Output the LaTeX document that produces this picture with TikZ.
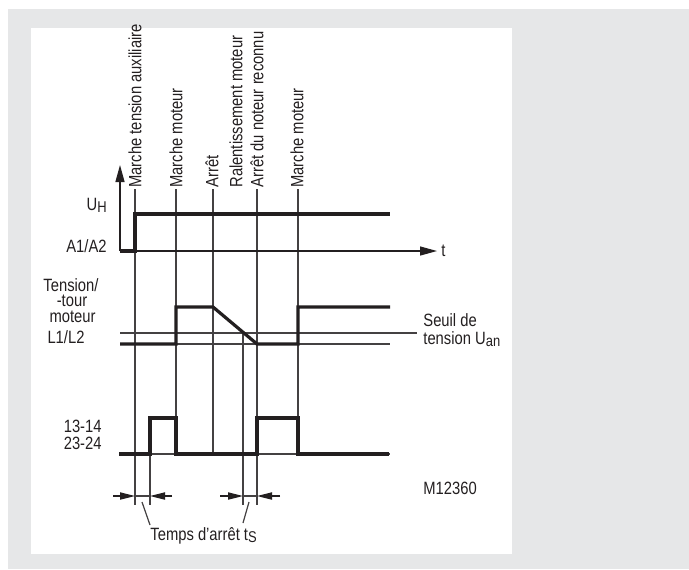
\documentclass[tikz,border=0pt]{standalone}
\usepackage{fontspec}
\setmainfont{Liberation Sans}[FakeStretch=0.83]
\usetikzlibrary{arrows.meta}

\definecolor{panelgray}{HTML}{E6E7E8}
\definecolor{ink}{HTML}{231F20}

\newcommand{\lowsub}[1]{\raisebox{-1.2pt}{\fontsize{7.8}{9}\selectfont #1}}

\begin{document}
\begin{tikzpicture}[
        x=0.5pt, y=-0.5pt,
        font=\fontsize{8.9}{10}\selectfont,
        txt/.style={inner sep=0pt, text=ink},
        vlbl/.style={inner sep=0pt, text=ink, rotate=90, anchor=west},
        thinline/.style={line width=0.6pt, ink!85},
        signal/.style={line width=1.6pt, ink, line join=miter},
        axis/.style={line width=0.65pt, ink, -{Triangle[length=8.5pt,width=4.5pt]}},
        dim/.style={line width=0.6pt, ink, -{Triangle[length=7.5pt,width=3.6pt]}}
    ]
        \useasboundingbox (0,0) rectangle (689,569);
        \fill[white] (0,0) rectangle (689,569);
        \fill[panelgray] (8,9) rectangle (689,569);
        \fill[white] (31,28) rectangle (512,554);

        % event labels
        \node[vlbl] (ev1) at (135,188) {Marche tension auxiliaire};
        \node[vlbl] (ev2) at (176,188) {Marche moteur};
        \node[vlbl] (ev3) at (212,188) {Arrêt};
        \node[vlbl] (ev4) at (236,188) {Ralentissement moteur};
        \node[vlbl] (ev5) at (257,188) {Arrêt du noteur reconnu};
        \node[vlbl] (ev6) at (297,188) {Marche moteur};

        % time marks
        \draw[thinline] (135,189) -- (135,505);
        \draw[thinline] (176,189) -- (176,454);
        \draw[thinline] (213,189) -- (213,454);
        \draw[thinline] (257,189) -- (257,505);
        \draw[thinline] (298,189) -- (298,454);
        \draw[thinline] (243,333) -- (243,505);
        \draw[thinline] (150,418) -- (150,505);

        % axes
        \draw[axis] (120,251) -- (120,165);
        \draw[axis] (120,251) -- (437,251);
        \node[txt, anchor=base west] (tlbl) at (441,256) {t};

        % U_H
        \node[txt, anchor=base east] (uh) at (107,210) {U\lowsub{H}};
        \node[txt, anchor=base east] (a1a2) at (107,252) {A1/A2};
        \draw[signal] (120,251) -- (135,251) -- (135,214) -- (390,214);

        % tension moteur
        \node[txt, anchor=base] (mot1) at (71,291) {Tension/};
        \node[txt, anchor=base] (mot2) at (72,306) {-tour};
        \node[txt, anchor=base] (mot3) at (72.5,322) {moteur};
        \node[txt, anchor=base] (l1l2) at (66,343) {L1/L2};
        \draw[thinline] (120,333) -- (417,333);
        \draw[thinline] (120,344) -- (390,344);
        \draw[signal] (120,344) -- (176,344) -- (176,307) -- (213,307)
            -- (257,344) -- (298,344) -- (298,307) -- (390,307);
        \node[txt, anchor=base west] (seuil1) at (423,326) {Seuil de};
        \node[txt, anchor=base west] (seuil2) at (423,344) {tension U\lowsub{an}};

        % contacts
        \node[txt, anchor=base east] (c1) at (102,432) {13-14};
        \node[txt, anchor=base east] (c2) at (102,449) {23-24};
        \draw[thinline] (120,454) -- (390,454);
        \draw[signal] (119,454) -- (150,454) -- (150,418) -- (176,418) -- (176,454)
            -- (257,454) -- (257,418) -- (298,418) -- (298,454) -- (389,454);

        \node[txt, anchor=base west] (ref) at (423,494) {M12360};

        % temps d'arret
        \draw[dim] (113,496) -- (135,496);
        \draw[dim] (172,496) -- (150,496);
        \draw[thinline] (135,496) -- (150,496);
        \draw[dim] (220,496) -- (243,496);
        \draw[dim] (280,496) -- (257,496);
        \draw[thinline] (243,496) -- (257,496);
        \node[txt, anchor=base west] (ts) at (150,540) {Temps d'arrêt t\lowsub{S}};
        \coordinate (ld1) at (142,502);
        \coordinate (ld2) at (249,502);
        \draw[thinline] (ld1) -- (150,525);
        \draw[thinline] (ld2) -- (243,523);
    \end{tikzpicture}
\end{document}
